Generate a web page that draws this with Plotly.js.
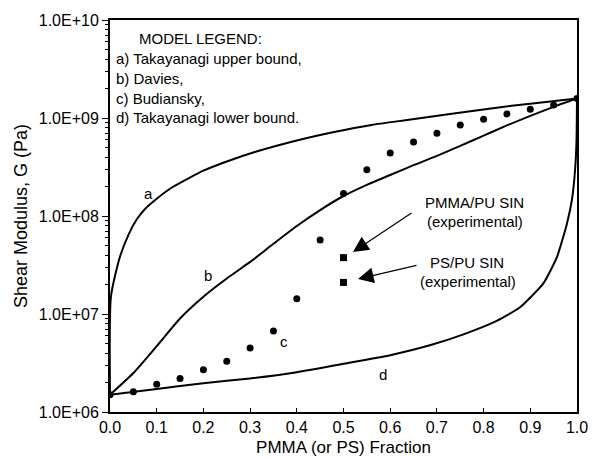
<!DOCTYPE html>
<html>
<head>
<meta charset="utf-8">
<script src="https://cdn.plot.ly/plotly-3.0.1.min.js"></script>
<style>
  html, body { margin: 0; padding: 0; background: #ffffff; }
  #chart { width: 592px; height: 457px; }
</style>
</head>
<body>
<div id="chart"></div>
<script>
// ---- Data ----
// a) Takayanagi upper bound
const xUpper = [0, 0.002, 0.021, 0.04, 0.057, 0.075, 0.1, 0.13, 0.17, 0.2, 0.25, 0.31, 0.4, 0.48, 0.56, 0.64, 0.74, 0.82, 0.9, 1.0];
const gUpper = [1.5e6, 1.5e7, 3.8e7, 6.5e7, 9.2e7, 1.18e8, 1.5e8, 1.92e8, 2.45e8, 2.9e8, 3.6e8, 4.5e8, 5.9e8, 7.2e8, 8.5e8, 9.6e8, 1.12e9, 1.26e9, 1.4e9, 1.58e9];

// b) Davies
const xDavies = [0, 0.05, 0.1, 0.15, 0.2, 0.25, 0.3, 0.35, 0.4, 0.45, 0.5, 0.55, 0.6, 0.65, 0.7, 0.75, 0.8, 0.85, 0.9, 0.95, 1.0];
const gDavies = [1.5e6, 2.5e6, 4.7e6, 9.0e6, 1.5e7, 2.3e7, 3.4e7, 5.2e7, 7.9e7, 1.15e8, 1.6e8, 2.08e8, 2.62e8, 3.3e8, 4.1e8, 5.2e8, 6.6e8, 8.4e8, 1.05e9, 1.3e9, 1.58e9];

// c) Budiansky (dotted)
const xBudiansky = [0, 0.05, 0.1, 0.15, 0.2, 0.25, 0.3, 0.35, 0.4, 0.45, 0.5, 0.55, 0.6, 0.65, 0.7, 0.75, 0.8, 0.85, 0.9, 0.95, 1.0];
const gBudiansky = [1.5e6, 1.61e6, 1.92e6, 2.2e6, 2.7e6, 3.3e6, 4.5e6, 6.7e6, 1.43e7, 5.7e7, 1.7e8, 2.97e8, 4.4e8, 5.7e8, 7.0e8, 8.5e8, 9.7e8, 1.1e9, 1.23e9, 1.36e9, 1.58e9];

// d) Takayanagi lower bound
const xLower = [0, 0.1, 0.2, 0.3, 0.4, 0.5, 0.6, 0.685, 0.757, 0.828, 0.878, 0.928, 0.957, 0.978, 0.989, 0.996, 0.999, 1.0];
const gLower = [1.5e6, 1.72e6, 1.97e6, 2.2e6, 2.55e6, 3.1e6, 3.8e6, 4.8e6, 6.2e6, 8.5e6, 1.17e7, 2.05e7, 3.8e7, 8.2e7, 1.45e8, 3.0e8, 6.0e8, 1.58e9];

// Experimental points
const xExp = [0.5, 0.5];
const gExp = [3.76e7, 2.1e7];
const expNames = ["PMMA/PU SIN", "PS/PU SIN"];

// Axis ticks
const yTickVals = [1e6, 1e7, 1e8, 1e9, 1e10];
const yTickText = ["1.0E+06", "1.0E+07", "1.0E+08", "1.0E+09", "1.0E+10"];

// Legend text lines
const legendLines = ["a) Takayanagi upper bound,", "b) Davies,", "c) Budiansky,", "d) Takayanagi lower bound."];

// ---- Chart ----
const FONT = "Liberation Sans, Arial, Helvetica, sans-serif";
const minorVals = [];
for (let e = 6; e < 10; e++) {
  for (let m = 2; m <= 9; m++) minorVals.push(m * Math.pow(10, e));
}

const traces = [
  {x: xUpper, y: gUpper, mode: "lines", line: {color: "#000", width: 2, shape: "spline", smoothing: 0.6}, name: "a"},
  {x: xDavies, y: gDavies, mode: "lines", line: {color: "#000", width: 2, shape: "spline", smoothing: 0.6}, name: "b"},
  {x: xLower, y: gLower, mode: "lines", line: {color: "#000", width: 2, shape: "spline", smoothing: 0.5}, name: "d"},
  {x: xBudiansky, y: gBudiansky, mode: "markers", marker: {symbol: "circle", size: 7, color: "#000"}, name: "c"},
  {x: xExp, y: gExp, mode: "markers", text: expNames, marker: {symbol: "square", size: 7, color: "#000"}, name: "exp"}
];

// pixel helpers for paper positions (plot area: x 110..577, y 20..412)
const L = 110, R = 577, T = 20, B = 412;
const px = v => (v - L) / (R - L);
const py = v => (B - v) / (B - T);

const annFont = {family: FONT, size: 15, color: "#000"};
const annotations = [];
annotations.push({xref: "paper", yref: "paper", x: px(137), y: py(38), xanchor: "left", yanchor: "middle",
  text: "MODEL LEGEND:", showarrow: false, font: annFont});
const legendY = [58, 78, 98, 117];
legendLines.forEach((t, i) => annotations.push({xref: "paper", yref: "paper", x: px(114), y: py(legendY[i]),
  xanchor: "left", yanchor: "middle", text: t, showarrow: false, font: annFont}));

// curve labels
[["a", 148, 193], ["b", 208, 275], ["c", 284, 341], ["d", 383, 374]].forEach(([t, xx, yy]) =>
  annotations.push({xref: "paper", yref: "paper", x: px(xx), y: py(yy), xanchor: "center", yanchor: "middle",
    text: t, showarrow: false, font: annFont}));

// experimental labels
[["PMMA/PU SIN", 474, 202], ["(experimental)", 475, 221], ["PS/PU SIN", 467, 262], ["(experimental)", 468, 281]].forEach(([t, xx, yy]) =>
  annotations.push({xref: "paper", yref: "paper", x: px(xx), y: py(yy), xanchor: "center", yanchor: "middle",
    text: t, showarrow: false, font: annFont}));

// arrows
[[353, 252, 60, -40], [358, 279, 60, -14]].forEach(([xx, yy, ax, ay]) =>
  annotations.push({xref: "paper", yref: "paper", x: px(xx), y: py(yy), text: "", showarrow: true,
    arrowhead: 2, arrowsize: 2.6, arrowwidth: 1.2, arrowcolor: "#000", ax: ax, ay: ay, standoff: 0}));

const layout = {
  width: 592, height: 457,
  margin: {l: L, r: 592 - R, t: T, b: 457 - B},
  paper_bgcolor: "#fff", plot_bgcolor: "#fff",
  showlegend: false,
  font: {family: FONT, color: "#000"},
  xaxis: {
    range: [0, 1], dtick: 0.1, tick0: 0, tickformat: ".1f",
    ticks: "inside", ticklen: 4, tickwidth: 1, tickcolor: "#000",
    showline: true, linecolor: "#000", linewidth: 2, mirror: true,
    showgrid: false, zeroline: false,
    tickfont: {family: FONT, size: 16, color: "#000"},
    title: {text: "PMMA (or PS) Fraction", font: {family: FONT, size: 17, color: "#000"}, standoff: 8}
  },
  yaxis: {
    type: "log", range: [6, 10],
    tickmode: "array", tickvals: yTickVals, ticktext: yTickText,
    ticks: "outside", ticklen: 6, tickwidth: 1, tickcolor: "#000",
    minor: {tickmode: "array", tickvals: minorVals, ticks: "outside", ticklen: 3, tickwidth: 1, tickcolor: "#000", showgrid: false},
    showline: true, linecolor: "#000", linewidth: 2, mirror: true,
    showgrid: false, zeroline: false,
    tickfont: {family: FONT, size: 16, color: "#000"},
    title: {text: "Shear Modulus, G (Pa)", font: {family: FONT, size: 18, color: "#000"}, standoff: 6}
  },
  annotations: annotations
};

Plotly.newPlot("chart", traces, layout, {displayModeBar: false, staticPlot: true});
</script>
</body>
</html>
